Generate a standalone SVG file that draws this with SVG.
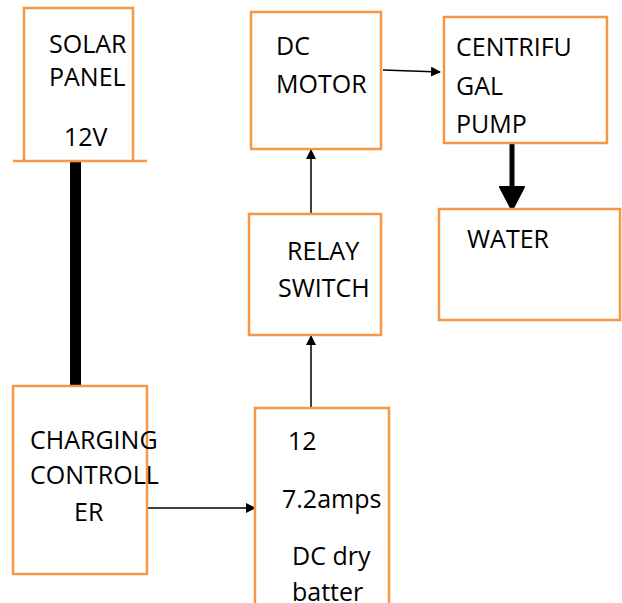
<svg xmlns="http://www.w3.org/2000/svg" width="622" height="603" viewBox="0 0 622 603">
<style>
.box{fill:#fff;stroke:#F79646;stroke-width:2.5}
.t{font-family:"Open Sans","Liberation Sans",sans-serif;font-size:25px;fill:#000}
.ln{stroke:#000;stroke-width:1.5;fill:none}
</style>
<defs>
<marker id="ah" markerWidth="10" markerHeight="10" refX="9" refY="5" orient="auto" markerUnits="userSpaceOnUse">
<path d="M0,0 L10,5 L0,10 z" fill="#000"/>
</marker>
</defs>
<rect width="622" height="603" fill="#fff"/>
<g id="connectors">
<rect x="70" y="162" width="11" height="223" fill="#000"/>
<line class="ln" x1="148" y1="508" x2="255" y2="508" marker-end="url(#ah)"/>
<line class="ln" x1="311" y1="407" x2="311" y2="336" marker-end="url(#ah)"/>
<line class="ln" x1="311" y1="213" x2="311" y2="150" marker-end="url(#ah)"/>
<line class="ln" x1="383" y1="70" x2="440" y2="72" marker-end="url(#ah)"/>
<line x1="512" y1="144" x2="512" y2="190" stroke="#000" stroke-width="5"/>
<path d="M500,187 L524,187 L512,210 z" fill="#000" stroke="#000" stroke-width="2" stroke-linejoin="round"/>
</g>
<g id="solar">
<path class="box" d="M24,160 V8 H133 V160"/>
<line x1="13" y1="161" x2="147" y2="161" stroke="#F79646" stroke-width="2.5"/>
<text class="t" x="49" y="53">SOLAR</text>
<text class="t" x="49" y="86">PANEL</text>
<text class="t" x="64" y="146">12V</text>
</g>
<g id="controller">
<rect class="box" x="13" y="386" width="134" height="188"/>
<text class="t" x="30" y="449">CHARGING</text>
<text class="t" x="30" y="484">CONTROLL</text>
<text class="t" x="74" y="521">ER</text>
</g>
<g id="battery">
<path class="box" d="M255,605 V408 H389 V605"/>
<text class="t" x="288" y="450">12</text>
<text class="t" x="282" y="508">7.2amps</text>
<text class="t" x="292" y="565">DC dry</text>
<text class="t" x="292" y="601">batter</text>
</g>
<g id="relay">
<rect class="box" x="249" y="214" width="132" height="121"/>
<text class="t" x="287" y="260">RELAY</text>
<text class="t" x="278" y="297">SWITCH</text>
</g>
<g id="motor">
<rect class="box" x="251" y="12" width="130" height="137"/>
<text class="t" x="276" y="55">DC</text>
<text class="t" x="276" y="93">MOTOR</text>
</g>
<g id="pump">
<rect class="box" x="444" y="17" width="163" height="126"/>
<text class="t" x="456" y="56">CENTRIFU</text>
<text class="t" x="456" y="95">GAL</text>
<text class="t" x="456" y="133">PUMP</text>
</g>
<g id="water">
<rect class="box" x="439" y="209" width="181" height="111"/>
<text class="t" x="467" y="248">WATER</text>
</g>
</svg>
